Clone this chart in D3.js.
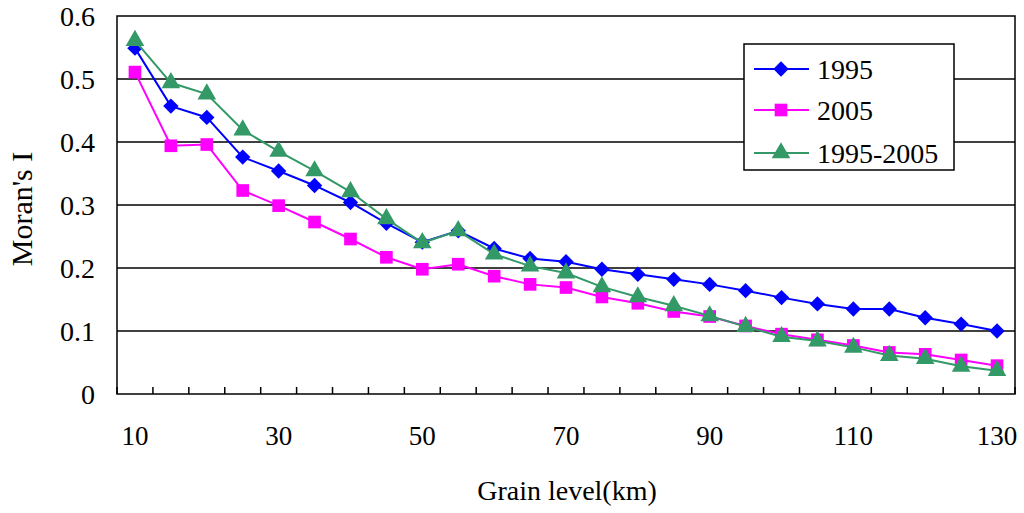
<!DOCTYPE html>
<html>
<head>
<meta charset="utf-8">
<script src="https://cdn.jsdelivr.net/npm/d3@7"></script>
<style>
  body { margin: 0; background: #fff; }
  text { font-family: "Liberation Serif", "Times New Roman", serif; fill: #000; }
</style>
</head>
<body>
<div id="chart"></div>
<script>
// grain levels (km)
var grain = [10, 15, 20, 25, 30, 35, 40, 45, 50, 55, 60, 65, 70, 75, 80, 85, 90, 95, 100, 105, 110, 115, 120, 125, 130]
var xTickLabels = [10, 30, 50, 70, 90, 110, 130]
var yTicks = [0, 0.1, 0.2, 0.3, 0.4, 0.5, 0.6]

// Moran's I per series
var moran1995 = [0.549, 0.457, 0.439, 0.376, 0.354, 0.331, 0.304, 0.271, 0.241, 0.259, 0.231, 0.215, 0.210, 0.198, 0.190, 0.182,
                 0.174, 0.164, 0.153, 0.143, 0.135, 0.135, 0.121, 0.111, 0.100]
var moran2005 = [0.511, 0.394, 0.396, 0.323, 0.299, 0.273, 0.246, 0.217, 0.198, 0.206, 0.187, 0.174, 0.169, 0.154, 0.144, 0.131,
                 0.123, 0.108, 0.095, 0.086, 0.077, 0.066, 0.063, 0.054, 0.045]
var moranChange = [0.561, 0.494, 0.476, 0.419, 0.385, 0.354, 0.321, 0.278, 0.240, 0.259, 0.222, 0.203, 0.192, 0.170, 0.154, 0.140,
                   0.124, 0.107, 0.091, 0.084, 0.074, 0.061, 0.056, 0.044, 0.037]

var series = [
    { name: "1995", values: moran1995, color: "#0000ff", symbol: "diamond" },
    { name: "2005", values: moran2005, color: "#ff00ff", symbol: "square" },
    { name: "1995-2005", values: moranChange, color: "#339966", symbol: "triangle" }
]

var width = 1024, height = 513
var plot = { left: 117, right: 1015, top: 16, bottom: 394 }

var svg = d3.select("#chart")
    .append("svg")
    .attr("width", width)
    .attr("height", height)

// Scales
var scale_x = d3.scaleBand()
    .domain(grain)
    .range([plot.left, plot.right])
    .padding(0)

var scale_y = d3.scaleLinear()
    .domain([0, 0.6])
    .range([plot.bottom, plot.top])

function cx(d) { return scale_x(d) + scale_x.bandwidth() / 2 }

// Gridlines
svg.append("g")
    .selectAll("line")
    .data(yTicks.slice(1, -1))
    .enter()
    .append("line")
    .attr("x1", plot.left)
    .attr("x2", plot.right)
    .attr("y1", d => scale_y(d))
    .attr("y2", d => scale_y(d))
    .attr("stroke", "#000")
    .attr("stroke-width", 1.5)

// Plot border
svg.append("rect")
    .attr("x", plot.left)
    .attr("y", plot.top)
    .attr("width", plot.right - plot.left)
    .attr("height", plot.bottom - plot.top)
    .attr("fill", "none")
    .attr("stroke", "#000")
    .attr("stroke-width", 1.5)

// Y axis
var axisY = svg.append("g")
    .attr("transform", "translate(" + plot.left + ",0)")
    .call(d3.axisLeft(scale_y).tickValues(yTicks).tickSize(0).tickPadding(22)
        .tickFormat(d => d === 0 ? "0" : d3.format(".1f")(d)))
axisY.select(".domain").remove()
axisY.selectAll("text")
    .attr("dy", "0.35em")
    .style("font-size", "28px")
    .style("font-family", "'Liberation Serif', serif")

// X axis ticks (between categories, pointing in)
var boundaries = grain.map(d => scale_x(d)).concat([plot.right])
svg.append("g")
    .selectAll("line")
    .data(boundaries)
    .enter()
    .append("line")
    .attr("x1", d => d)
    .attr("x2", d => d)
    .attr("y1", plot.bottom)
    .attr("y2", plot.bottom - 7)
    .attr("stroke", "#000")
    .attr("stroke-width", 1.5)

svg.append("g")
    .selectAll("text")
    .data(xTickLabels)
    .enter()
    .append("text")
    .attr("x", d => cx(d))
    .attr("y", 445)
    .attr("text-anchor", "middle")
    .style("font-size", "27px")
    .text(d => d)

// Axis titles
svg.append("text")
    .attr("x", 567)
    .attr("y", 500)
    .attr("text-anchor", "middle")
    .style("font-size", "28px")
    .text("Grain level(km)")

svg.append("text")
    .attr("transform", "translate(32,209) rotate(-90)")
    .attr("text-anchor", "middle")
    .style("font-size", "30px")
    .text("Moran's I")

// Markers
function marker(sel, type, color) {
    if (type === "diamond") {
        sel.append("path")
            .attr("d", d3.symbol().type(d3.symbolSquare).size(118)())
            .attr("transform", "rotate(45)")
            .attr("fill", color)
    } else if (type === "square") {
        sel.append("path")
            .attr("d", d3.symbol().type(d3.symbolSquare).size(160)())
            .attr("fill", color)
    } else {
        sel.append("path")
            .attr("d", d3.symbol().type(d3.symbolTriangle).size(150)())
            .attr("fill", color)
    }
}

var line = d3.line()
    .x((d, i) => cx(grain[i]))
    .y(d => scale_y(d))

series.forEach(function (s) {
    var g = svg.append("g").attr("class", "series")
    g.append("path")
        .datum(s.values)
        .attr("d", line)
        .attr("fill", "none")
        .attr("stroke", s.color)
        .attr("stroke-width", 2)

    g.selectAll("g.pt")
        .data(s.values)
        .enter()
        .append("g")
        .attr("class", "pt")
        .attr("transform", (d, i) => "translate(" + cx(grain[i]) + "," + scale_y(d) + ")")
        .each(function () { marker(d3.select(this), s.symbol, s.color) })
})

// Legend
var legend = svg.append("g")
legend.append("rect")
    .attr("x", 744)
    .attr("y", 44)
    .attr("width", 210)
    .attr("height", 126)
    .attr("fill", "#fff")
    .attr("stroke", "#000")
    .attr("stroke-width", 1.5)

var legendY = [69, 110, 153]
series.forEach(function (s, i) {
    var row = legend.append("g")
    row.append("line")
        .attr("x1", 754)
        .attr("x2", 809)
        .attr("y1", legendY[i])
        .attr("y2", legendY[i])
        .attr("stroke", s.color)
        .attr("stroke-width", 2)
    var m = row.append("g").attr("transform", "translate(781," + legendY[i] + ")")
    marker(m, s.symbol, s.color)
    row.append("text")
        .attr("x", 817)
        .attr("y", legendY[i] + 10)
        .style("font-size", "28px")
        .text(s.name)
})
</script>
</body>
</html>
